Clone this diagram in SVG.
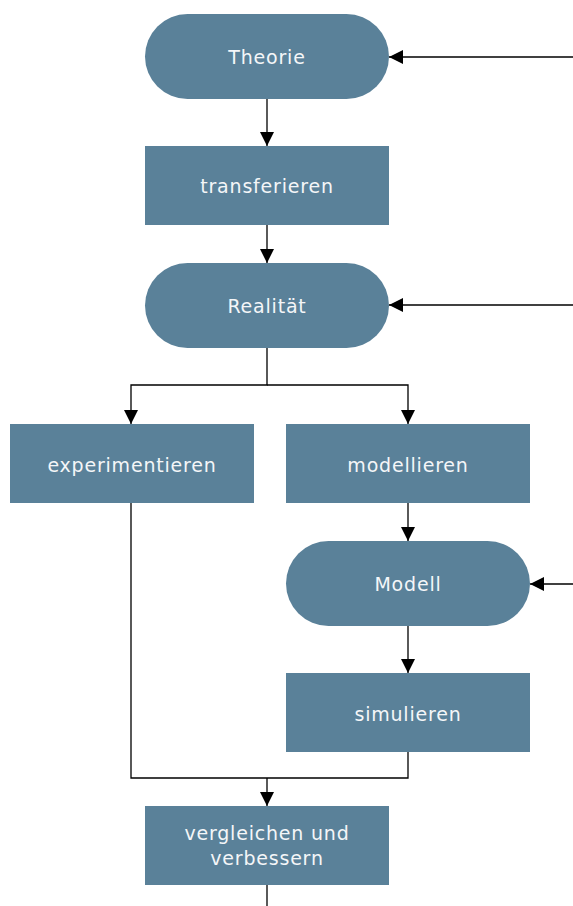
<svg xmlns="http://www.w3.org/2000/svg" width="573" height="906" viewBox="0 0 573 906">
  <style>
    .node { fill: #5a8199; }
    .label { fill: #f4f6f8; font-family: "DejaVu Sans", Verdana, sans-serif; font-size: 19px; text-anchor: middle; dominant-baseline: central; letter-spacing: 0.8px; }
    .edge { fill: none; stroke: #000; stroke-width: 1.3; }
  </style>
  <defs>
    <marker id="arrow" viewBox="0 0 14 14" refX="14" refY="7" markerWidth="14" markerHeight="14" markerUnits="userSpaceOnUse" orient="auto">
      <path d="M0,0 L14,7 L0,14 Z" fill="#000"/>
    </marker>
  </defs>
  <rect width="573" height="906" fill="#fff"/>

  <g id="connectors">
    <path class="edge" d="M267,99 V146" marker-end="url(#arrow)"/>
    <path class="edge" d="M267,225 V263" marker-end="url(#arrow)"/>
    <path class="edge" d="M267,348 V385 H131 V424" marker-end="url(#arrow)"/>
    <path class="edge" d="M267,385 H408 V424" marker-end="url(#arrow)"/>
    <path class="edge" d="M408,503 V541" marker-end="url(#arrow)"/>
    <path class="edge" d="M408,626 V673" marker-end="url(#arrow)"/>
    <path class="edge" d="M131,503 V778 H408 V752"/>
    <path class="edge" d="M267,778 V806" marker-end="url(#arrow)"/>
    <path class="edge" d="M267,885 V906"/>
    <path class="edge" d="M573,57 H389" marker-end="url(#arrow)"/>
    <path class="edge" d="M573,305 H389" marker-end="url(#arrow)"/>
    <path class="edge" d="M573,584 H530" marker-end="url(#arrow)"/>
  </g>

  <g id="theorie">
    <rect class="node" x="145" y="14" width="244" height="85" rx="42.5"/>
    <text class="label" x="267" y="57">Theorie</text>
  </g>
  <g id="transferieren">
    <rect class="node" x="145" y="146" width="244" height="79"/>
    <text class="label" x="267" y="186">transferieren</text>
  </g>
  <g id="realitaet">
    <rect class="node" x="145" y="263" width="244" height="85" rx="42.5"/>
    <text class="label" x="267" y="306">Realität</text>
  </g>
  <g id="experimentieren">
    <rect class="node" x="10" y="424" width="244" height="79"/>
    <text class="label" x="132" y="465">experimentieren</text>
  </g>
  <g id="modellieren">
    <rect class="node" x="286" y="424" width="244" height="79"/>
    <text class="label" x="408" y="465">modellieren</text>
  </g>
  <g id="modell">
    <rect class="node" x="286" y="541" width="244" height="85" rx="42.5"/>
    <text class="label" x="408" y="584">Modell</text>
  </g>
  <g id="simulieren">
    <rect class="node" x="286" y="673" width="244" height="79"/>
    <text class="label" x="408" y="714">simulieren</text>
  </g>
  <g id="vergleichen">
    <rect class="node" x="145" y="806" width="244" height="79"/>
    <text class="label" x="267" y="833">vergleichen und</text>
    <text class="label" x="267" y="858">verbessern</text>
  </g>
</svg>
